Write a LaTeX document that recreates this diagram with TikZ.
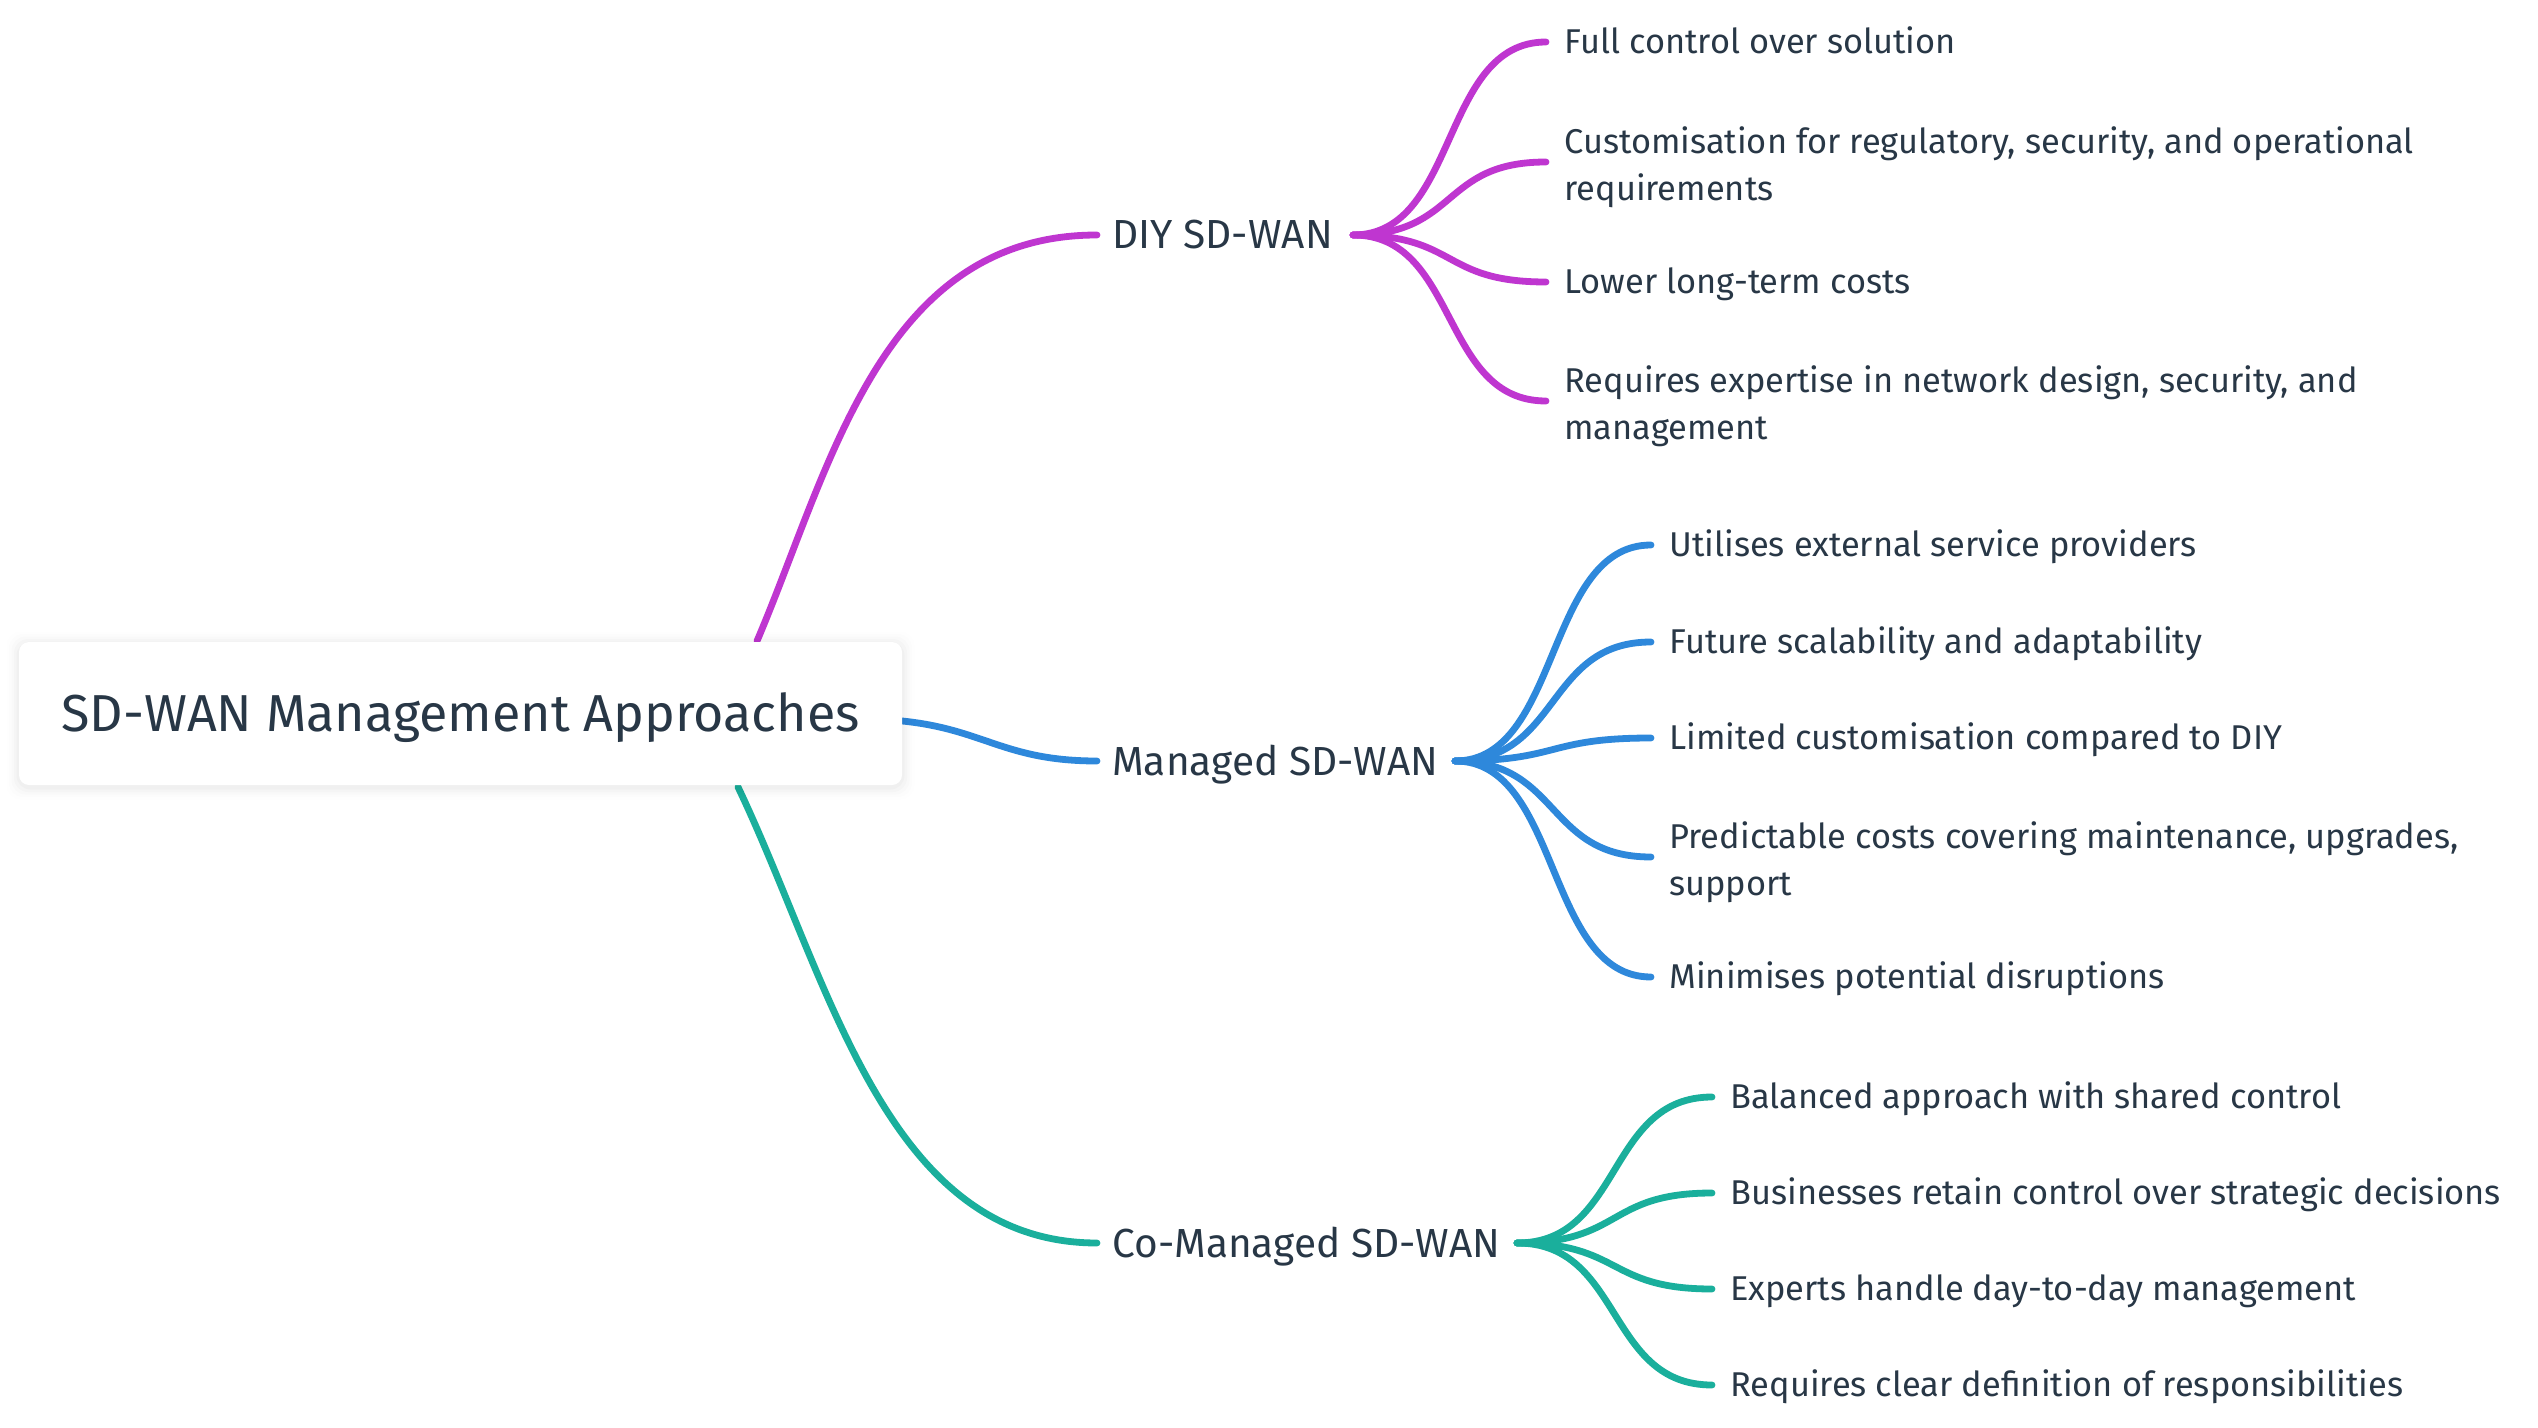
\documentclass[tikz,border=0pt]{standalone}
\usepackage{fontspec}
\setmainfont{Fira Sans}
\usetikzlibrary{calc}
\definecolor{ink}{RGB}{40,55,70}
\definecolor{cM}{RGB}{191,54,208}
\definecolor{cB}{RGB}{46,136,219}
\definecolor{cT}{RGB}{26,175,156}
\pgfdeclarelayer{bg}
\pgfsetlayers{bg,main}
\newcommand\leafcurve[3]{\draw[conn,#1] (#2) .. controls ($(#2)+(106,0)$) and ($(#3)+(-106,0)$) .. (#3);}
\begin{document}
\begin{tikzpicture}[x=0.5pt,y=-0.5pt,
  conn/.style={line width=3.4pt, line cap=round},
  leaf/.style={anchor=west, inner sep=0pt, text=ink, font=\fontsize{17.2}{23.5}\selectfont, text height=11.85pt, text depth=0pt},
  leaftwo/.style={anchor=west, inner sep=0pt, text=ink, font=\fontsize{17.2}{23.5}\selectfont, align=left, yshift=-2.5pt},
  branch/.style={anchor=west, inner sep=0pt, text=ink, font=\fontsize{20.3}{24}\selectfont, text height=14pt, text depth=0pt},
  rootbox/.style={fill=white, rounded corners=5pt, inner sep=0pt, minimum width=441.5pt, minimum height=71.5pt, text=ink, font=\fontsize{26}{30}\selectfont, text height=17.9pt, text depth=0pt}
]
\begin{pgfonlayer}{bg}
\path[use as bounding box, fill=white] (0,0) rectangle (2538,1428);
\end{pgfonlayer}

% branches
\node[branch] (diy) at (1112,235) {DIY SD-WAN};
\node[branch] (man) at (1112,761) {Managed SD-WAN};
\node[branch] (co) at (1112,1243) {Co-Managed SD-WAN};

% leaves DIY
\node[leaf] (l11) at (1564,42) {Full control over solution};
\node[leaftwo] (l12) at (1564,162) {Customisation for regulatory, security, and operational\\requirements};
\node[leaf] (l13) at (1564,282) {Lower long-term costs};
\node[leaftwo] (l14) at (1564,401) {Requires expertise in network design, security, and\\management};
% leaves Managed
\node[leaf] (l21) at (1669,545) {Utilises external service providers};
\node[leaf] (l22) at (1669,642) {Future scalability and adaptability};
\node[leaf] (l23) at (1669,738) {Limited customisation compared to DIY};
\node[leaftwo] (l24) at (1669,857) {Predictable costs covering maintenance, upgrades,\\support};
\node[leaf] (l25) at (1669,977) {Minimises potential disruptions};
% leaves Co-Managed
\node[leaf] (l31) at (1730,1097) {Balanced approach with shared control};
\node[leaf] (l32) at (1730,1193) {Businesses retain control over strategic decisions};
\node[leaf] (l33) at (1730,1289) {Experts handle day-to-day management};
\node[leaf] (l34) at (1730,1385) {Requires clear definition of responsibilities};

% root shadow + box
\foreach \i/\o in {1/0.02,2/0.015,3/0.01,4/0.007,5/0.005}{
  \fill[black, opacity=\o, rounded corners=7pt] (19-\i*2.5,642-\i*2.5+2) rectangle (902+\i*2.5,785+\i*2.5+2);
}
\node[rootbox] (root) at (460.5,713.5) {SD-WAN Management Approaches};

% named coordinates
\coordinate (rM) at (757,641);
\coordinate (rB) at (860,719);
\coordinate (rT) at (738,787);
\coordinate (sD) at (1353,235);
\coordinate (sM) at (1455,761);
\coordinate (sC) at (1517,1243);
\foreach \n in {l11,l13,l21,l22,l23,l25,l31,l32,l33,l34}{
  \coordinate (e\n) at ([xshift=-9pt]\n.west);
}
\coordinate (el12) at (1546,162);
\coordinate (el14) at (1546,401);
\coordinate (el24) at (1651,857);
\coordinate (eD) at ([xshift=-7.5pt]diy.west);
\coordinate (eM) at ([xshift=-7.5pt]man.west);
\coordinate (eC) at ([xshift=-7.5pt]co.west);

\begin{pgfonlayer}{bg}
\draw[conn,cM] (rM) .. controls (830,470) and (880,235) .. (eD);
\draw[conn,cB] (rB) .. controls (980,719) and (990,761) .. (eM);
\draw[conn,cT] (rT) .. controls (830,980) and (885,1243) .. (eC);
\foreach \n in {l11,l12,l13,l14}{\leafcurve{cM}{sD}{e\n}}
\foreach \n in {l21,l22,l23,l24,l25}{\leafcurve{cB}{sM}{e\n}}
\foreach \n in {l31,l32,l33,l34}{\leafcurve{cT}{sC}{e\n}}
\end{pgfonlayer}
\end{tikzpicture}
\end{document}
